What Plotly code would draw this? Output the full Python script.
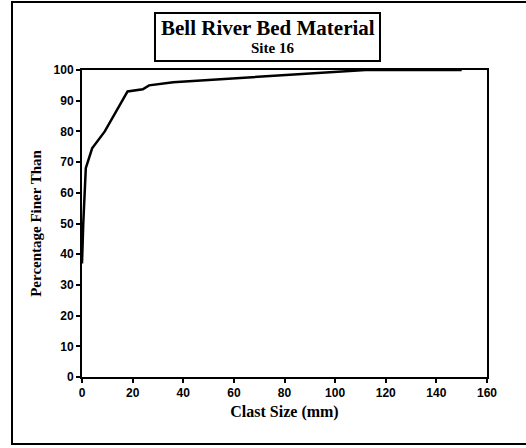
import plotly.graph_objects as go

# Cumulative grain-size distribution, Bell River site 16
clast_size_mm = [0, 0.5, 1.5, 4, 9, 18, 24, 26.5, 36, 60, 85, 112, 150]
percent_finer = [37, 50, 68, 74.5, 80, 93, 93.7, 95, 96, 97.3, 98.5, 100, 100]

x_ticks = [0, 20, 40, 60, 80, 100, 120, 140, 160]
y_ticks = [0, 10, 20, 30, 40, 50, 60, 70, 80, 90, 100]

title_main = "Bell River Bed Material"
title_sub = "Site 16"
x_title = "Clast Size (mm)"
y_title = "Percentage Finer Than"

W, H = 526, 448
L, R, T, B = 82, 487, 70, 377  # plot area in pixels


def px_x(p):
    return (p - L) / (R - L)


def px_y(p):
    return (B - p) / (B - T)


serif = "Liberation Serif"
sans = "Liberation Sans"

fig = go.Figure()
fig.add_trace(go.Scatter(
    x=clast_size_mm, y=percent_finer, mode="lines",
    line=dict(color="black", width=2.5), cliponaxis=False,
    showlegend=False, hoverinfo="skip",
))

axis_common = dict(
    showgrid=False, zeroline=False, showline=True, linecolor="black",
    linewidth=2, mirror=True, ticks="outside", ticklen=4, tickwidth=1.5,
    tickcolor="black",
    tickfont=dict(family=sans, size=12, color="black", weight="bold"),
)

fig.update_xaxes(
    range=[0, 160], tickvals=x_ticks,
    title=dict(text=f"<b>{x_title}</b>", font=dict(family=serif, size=16, color="black"), standoff=6),
    **axis_common,
)
fig.update_yaxes(
    range=[0, 100], tickvals=y_ticks,
    title=dict(text=f"<b>{y_title}</b>", font=dict(family=serif, size=15, color="black"), standoff=8),
    **axis_common,
)

shapes = [
    # outer frame
    dict(type="rect", xref="paper", yref="paper",
         x0=px_x(12), x1=px_x(528), y0=px_y(444), y1=px_y(2),
         line=dict(color="black", width=2), fillcolor="rgba(0,0,0,0)", layer="above"),
    # title box
    dict(type="rect", xref="paper", yref="paper",
         x0=px_x(155), x1=px_x(380), y0=px_y(61), y1=px_y(13),
         line=dict(color="black", width=2), fillcolor="white"),
]

annotations = [
    dict(text=f"<b>{title_main}</b>", xref="paper", yref="paper",
         x=px_x(268), y=px_y(28), showarrow=False,
         font=dict(family=serif, size=21, color="black"),
         xanchor="center", yanchor="middle"),
    dict(text=f"<b>{title_sub}</b>", xref="paper", yref="paper",
         x=px_x(272), y=px_y(48), showarrow=False,
         font=dict(family=serif, size=15, color="black"),
         xanchor="center", yanchor="middle"),
]

fig.update_layout(
    width=W, height=H,
    margin=dict(l=L, r=W - R, t=T, b=H - B),
    plot_bgcolor="white", paper_bgcolor="white",
    shapes=shapes, annotations=annotations,
)

fig.write_html("out.html")
